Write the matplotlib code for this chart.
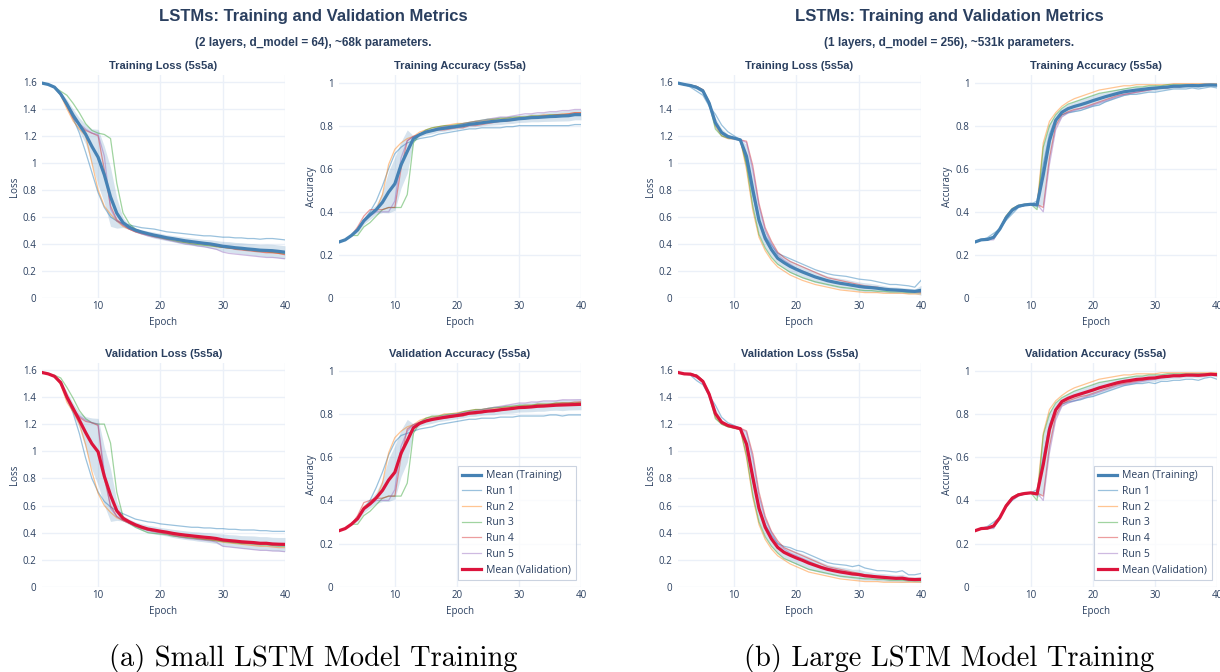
import numpy as np
import matplotlib
matplotlib.use('Agg')
import matplotlib.pyplot as plt
from matplotlib.lines import Line2D
from matplotlib.ticker import FuncFormatter, MultipleLocator

epochs = np.arange(1, 41)

# ---- small model: 2 layers, d_model = 64 (5 runs x 40 epochs) ----
small_train_loss = [
    [1.59, 1.58, 1.56, 1.50, 1.42, 1.33, 1.22, 1.08, 0.93, 0.78,
     0.67, 0.60, 0.57, 0.55, 0.54, 0.53, 0.52, 0.515, 0.51, 0.50,
     0.49, 0.485, 0.48, 0.475, 0.47, 0.465, 0.46, 0.46, 0.455, 0.45,
     0.45, 0.445, 0.445, 0.44, 0.44, 0.435, 0.44, 0.44, 0.435, 0.43],
    [1.59, 1.58, 1.56, 1.50, 1.40, 1.31, 1.25, 1.20, 1.00, 0.80,
     0.68, 0.62, 0.57, 0.53, 0.51, 0.49, 0.48, 0.47, 0.455, 0.445,
     0.435, 0.43, 0.42, 0.41, 0.405, 0.40, 0.395, 0.39, 0.38, 0.375,
     0.37, 0.365, 0.36, 0.355, 0.35, 0.345, 0.34, 0.335, 0.33, 0.325],
    [1.59, 1.58, 1.56, 1.53, 1.50, 1.44, 1.37, 1.29, 1.24, 1.22,
     1.21, 1.18, 0.85, 0.63, 0.55, 0.51, 0.49, 0.47, 0.455, 0.445,
     0.435, 0.425, 0.415, 0.41, 0.40, 0.395, 0.39, 0.385, 0.38, 0.375,
     0.37, 0.365, 0.36, 0.355, 0.35, 0.345, 0.345, 0.34, 0.335, 0.33],
    [1.59, 1.58, 1.56, 1.51, 1.42, 1.33, 1.28, 1.24, 1.22, 1.20,
     0.95, 0.68, 0.58, 0.54, 0.51, 0.49, 0.475, 0.465, 0.455, 0.45,
     0.44, 0.435, 0.43, 0.42, 0.415, 0.41, 0.40, 0.395, 0.385, 0.375,
     0.37, 0.36, 0.355, 0.35, 0.345, 0.34, 0.335, 0.335, 0.33, 0.32],
    [1.59, 1.58, 1.56, 1.51, 1.43, 1.35, 1.29, 1.25, 1.22, 1.21,
     1.05, 0.66, 0.57, 0.54, 0.51, 0.49, 0.475, 0.46, 0.45, 0.44,
     0.43, 0.42, 0.41, 0.40, 0.395, 0.385, 0.38, 0.37, 0.36, 0.34,
     0.33, 0.325, 0.32, 0.315, 0.31, 0.305, 0.30, 0.30, 0.295, 0.29],
]
small_train_acc = [
    [0.26, 0.27, 0.29, 0.32, 0.36, 0.40, 0.45, 0.52, 0.60, 0.67,
     0.70, 0.72, 0.73, 0.74, 0.745, 0.75, 0.76, 0.765, 0.77, 0.775,
     0.78, 0.785, 0.785, 0.79, 0.79, 0.79, 0.79, 0.795, 0.795, 0.80,
     0.80, 0.80, 0.80, 0.80, 0.80, 0.80, 0.80, 0.80, 0.805, 0.805],
    [0.26, 0.27, 0.29, 0.32, 0.36, 0.39, 0.41, 0.48, 0.62, 0.69,
     0.72, 0.74, 0.75, 0.77, 0.78, 0.79, 0.795, 0.80, 0.805, 0.81,
     0.81, 0.815, 0.82, 0.82, 0.825, 0.83, 0.83, 0.835, 0.835, 0.84,
     0.84, 0.845, 0.845, 0.85, 0.85, 0.85, 0.855, 0.855, 0.86, 0.86],
    [0.26, 0.27, 0.29, 0.29, 0.33, 0.35, 0.38, 0.41, 0.42, 0.42,
     0.42, 0.48, 0.72, 0.76, 0.78, 0.79, 0.795, 0.80, 0.80, 0.805,
     0.81, 0.815, 0.82, 0.825, 0.83, 0.83, 0.835, 0.835, 0.84, 0.84,
     0.84, 0.845, 0.845, 0.845, 0.85, 0.85, 0.85, 0.85, 0.855, 0.855],
    [0.26, 0.27, 0.29, 0.33, 0.38, 0.41, 0.41, 0.41, 0.42, 0.42,
     0.60, 0.73, 0.75, 0.76, 0.77, 0.775, 0.78, 0.78, 0.785, 0.79,
     0.79, 0.80, 0.80, 0.805, 0.81, 0.815, 0.82, 0.82, 0.825, 0.83,
     0.835, 0.84, 0.84, 0.845, 0.845, 0.85, 0.85, 0.855, 0.86, 0.86],
    [0.26, 0.27, 0.29, 0.32, 0.36, 0.38, 0.40, 0.40, 0.40, 0.45,
     0.65, 0.73, 0.75, 0.76, 0.775, 0.78, 0.79, 0.795, 0.80, 0.80,
     0.81, 0.815, 0.82, 0.825, 0.83, 0.835, 0.84, 0.84, 0.845, 0.85,
     0.855, 0.855, 0.86, 0.86, 0.865, 0.865, 0.87, 0.87, 0.875, 0.875],
]
small_val_loss = [
    [1.58, 1.57, 1.55, 1.50, 1.40, 1.28, 1.13, 0.95, 0.80, 0.70,
     0.63, 0.59, 0.56, 0.54, 0.52, 0.50, 0.49, 0.48, 0.475, 0.465,
     0.46, 0.455, 0.45, 0.445, 0.44, 0.44, 0.435, 0.435, 0.43, 0.43,
     0.425, 0.425, 0.42, 0.42, 0.42, 0.415, 0.415, 0.41, 0.41, 0.41],
    [1.58, 1.57, 1.55, 1.49, 1.36, 1.29, 1.20, 1.05, 0.85, 0.69,
     0.60, 0.55, 0.51, 0.49, 0.47, 0.45, 0.43, 0.42, 0.41, 0.40,
     0.39, 0.38, 0.37, 0.365, 0.36, 0.355, 0.35, 0.345, 0.34, 0.33,
     0.325, 0.32, 0.315, 0.31, 0.305, 0.30, 0.30, 0.295, 0.29, 0.29],
    [1.58, 1.57, 1.56, 1.54, 1.47, 1.39, 1.30, 1.24, 1.21, 1.20,
     1.20, 1.06, 0.70, 0.52, 0.47, 0.44, 0.42, 0.40, 0.395, 0.39,
     0.385, 0.375, 0.37, 0.365, 0.36, 0.355, 0.35, 0.345, 0.34, 0.335,
     0.33, 0.325, 0.32, 0.32, 0.315, 0.31, 0.31, 0.305, 0.30, 0.30],
    [1.58, 1.57, 1.55, 1.50, 1.38, 1.30, 1.25, 1.22, 1.21, 1.19,
     0.80, 0.60, 0.52, 0.49, 0.47, 0.45, 0.435, 0.42, 0.41, 0.40,
     0.395, 0.385, 0.38, 0.375, 0.37, 0.36, 0.355, 0.35, 0.345, 0.34,
     0.335, 0.33, 0.325, 0.32, 0.32, 0.315, 0.315, 0.31, 0.31, 0.31],
    [1.58, 1.57, 1.55, 1.50, 1.39, 1.31, 1.26, 1.23, 1.21, 1.20,
     0.85, 0.58, 0.52, 0.49, 0.47, 0.45, 0.43, 0.415, 0.405, 0.40,
     0.39, 0.38, 0.37, 0.36, 0.355, 0.35, 0.345, 0.34, 0.33, 0.30,
     0.295, 0.29, 0.285, 0.28, 0.275, 0.27, 0.27, 0.265, 0.265, 0.26],
]
small_val_acc = [
    [0.26, 0.27, 0.29, 0.32, 0.36, 0.40, 0.46, 0.53, 0.61, 0.67,
     0.70, 0.71, 0.72, 0.73, 0.735, 0.74, 0.75, 0.755, 0.76, 0.765,
     0.77, 0.775, 0.775, 0.78, 0.78, 0.78, 0.785, 0.785, 0.785, 0.79,
     0.79, 0.79, 0.79, 0.79, 0.795, 0.795, 0.79, 0.795, 0.795, 0.795],
    [0.26, 0.27, 0.29, 0.32, 0.37, 0.39, 0.41, 0.48, 0.62, 0.69,
     0.72, 0.74, 0.75, 0.77, 0.78, 0.785, 0.79, 0.80, 0.80, 0.805,
     0.81, 0.815, 0.82, 0.82, 0.825, 0.825, 0.83, 0.83, 0.835, 0.835,
     0.84, 0.84, 0.845, 0.845, 0.845, 0.85, 0.85, 0.85, 0.85, 0.855],
    [0.26, 0.27, 0.29, 0.29, 0.33, 0.35, 0.38, 0.41, 0.42, 0.42,
     0.42, 0.48, 0.71, 0.76, 0.78, 0.79, 0.79, 0.795, 0.80, 0.80,
     0.81, 0.815, 0.82, 0.82, 0.825, 0.83, 0.83, 0.835, 0.835, 0.84,
     0.84, 0.84, 0.845, 0.845, 0.845, 0.85, 0.85, 0.85, 0.85, 0.85],
    [0.26, 0.27, 0.29, 0.33, 0.39, 0.40, 0.41, 0.41, 0.42, 0.42,
     0.60, 0.73, 0.75, 0.76, 0.77, 0.775, 0.78, 0.78, 0.785, 0.79,
     0.79, 0.80, 0.80, 0.805, 0.81, 0.81, 0.815, 0.82, 0.825, 0.83,
     0.83, 0.835, 0.84, 0.84, 0.845, 0.845, 0.85, 0.85, 0.855, 0.855],
    [0.26, 0.27, 0.29, 0.32, 0.36, 0.38, 0.40, 0.40, 0.40, 0.45,
     0.65, 0.72, 0.75, 0.76, 0.77, 0.78, 0.785, 0.79, 0.795, 0.80,
     0.805, 0.81, 0.815, 0.82, 0.825, 0.83, 0.835, 0.84, 0.845, 0.85,
     0.85, 0.855, 0.855, 0.86, 0.86, 0.86, 0.865, 0.865, 0.865, 0.865],
]

# ---- large model: 1 layer, d_model = 256 ----
large_train_loss = [
    [1.59, 1.58, 1.56, 1.53, 1.50, 1.42, 1.36, 1.28, 1.23, 1.20,
     1.17, 1.00, 0.76, 0.57, 0.46, 0.39, 0.33, 0.31, 0.29, 0.27,
     0.25, 0.23, 0.21, 0.195, 0.18, 0.17, 0.165, 0.16, 0.15, 0.14,
     0.135, 0.13, 0.12, 0.11, 0.10, 0.10, 0.095, 0.09, 0.08, 0.13],
    [1.59, 1.58, 1.575, 1.565, 1.54, 1.45, 1.27, 1.20, 1.18, 1.175,
     1.17, 0.95, 0.65, 0.45, 0.35, 0.28, 0.23, 0.20, 0.17, 0.15,
     0.13, 0.115, 0.10, 0.09, 0.08, 0.07, 0.06, 0.055, 0.05, 0.045,
     0.04, 0.04, 0.04, 0.035, 0.035, 0.035, 0.035, 0.03, 0.03, 0.03],
    [1.59, 1.58, 1.575, 1.565, 1.54, 1.44, 1.25, 1.20, 1.185, 1.18,
     1.17, 0.98, 0.68, 0.47, 0.37, 0.30, 0.25, 0.22, 0.19, 0.17,
     0.15, 0.135, 0.12, 0.11, 0.10, 0.09, 0.08, 0.075, 0.07, 0.06,
     0.055, 0.055, 0.05, 0.05, 0.045, 0.045, 0.045, 0.04, 0.04, 0.04],
    [1.59, 1.58, 1.575, 1.565, 1.54, 1.45, 1.30, 1.22, 1.19, 1.18,
     1.17, 1.16, 0.98, 0.70, 0.52, 0.42, 0.34, 0.30, 0.27, 0.25,
     0.23, 0.21, 0.19, 0.17, 0.15, 0.14, 0.13, 0.12, 0.11, 0.10,
     0.09, 0.085, 0.08, 0.07, 0.065, 0.06, 0.055, 0.05, 0.05, 0.045],
    [1.59, 1.58, 1.575, 1.565, 1.54, 1.45, 1.30, 1.22, 1.19, 1.18,
     1.17, 1.15, 0.95, 0.68, 0.50, 0.40, 0.32, 0.28, 0.25, 0.22,
     0.20, 0.18, 0.16, 0.145, 0.13, 0.12, 0.11, 0.10, 0.09, 0.085,
     0.08, 0.075, 0.07, 0.065, 0.06, 0.055, 0.05, 0.05, 0.045, 0.04],
]
large_train_acc = [
    [0.26, 0.27, 0.28, 0.30, 0.32, 0.36, 0.39, 0.42, 0.43, 0.435,
     0.45, 0.62, 0.76, 0.83, 0.85, 0.86, 0.865, 0.87, 0.88, 0.89,
     0.895, 0.91, 0.92, 0.93, 0.94, 0.945, 0.945, 0.95, 0.955, 0.955,
     0.96, 0.965, 0.97, 0.97, 0.97, 0.975, 0.97, 0.975, 0.98, 0.975],
    [0.26, 0.27, 0.27, 0.28, 0.32, 0.38, 0.415, 0.43, 0.435, 0.435,
     0.43, 0.72, 0.82, 0.86, 0.89, 0.91, 0.925, 0.935, 0.945, 0.955,
     0.965, 0.97, 0.975, 0.98, 0.985, 0.985, 0.99, 0.99, 0.99, 0.99,
     0.99, 0.99, 0.995, 0.995, 0.995, 0.995, 0.995, 0.995, 0.995, 0.995],
    [0.26, 0.27, 0.27, 0.28, 0.32, 0.38, 0.415, 0.43, 0.435, 0.435,
     0.41, 0.70, 0.80, 0.85, 0.88, 0.90, 0.91, 0.92, 0.93, 0.94,
     0.95, 0.955, 0.96, 0.965, 0.97, 0.975, 0.98, 0.98, 0.985, 0.985,
     0.985, 0.99, 0.99, 0.99, 0.99, 0.99, 0.99, 0.99, 0.99, 0.99],
    [0.26, 0.27, 0.27, 0.28, 0.32, 0.37, 0.41, 0.425, 0.43, 0.435,
     0.435, 0.42, 0.65, 0.80, 0.85, 0.865, 0.875, 0.88, 0.89, 0.90,
     0.91, 0.92, 0.93, 0.94, 0.945, 0.95, 0.955, 0.96, 0.965, 0.97,
     0.975, 0.975, 0.98, 0.98, 0.985, 0.985, 0.985, 0.99, 0.99, 0.99],
    [0.26, 0.27, 0.27, 0.27, 0.32, 0.37, 0.41, 0.425, 0.43, 0.435,
     0.435, 0.40, 0.62, 0.78, 0.84, 0.86, 0.87, 0.88, 0.885, 0.895,
     0.905, 0.915, 0.925, 0.935, 0.945, 0.95, 0.955, 0.96, 0.965, 0.97,
     0.975, 0.975, 0.98, 0.98, 0.985, 0.985, 0.985, 0.99, 0.99, 0.99],
]
large_val_loss = [
    [1.58, 1.57, 1.56, 1.52, 1.49, 1.41, 1.34, 1.25, 1.21, 1.19,
     1.17, 1.05, 0.78, 0.58, 0.46, 0.38, 0.32, 0.30, 0.29, 0.27,
     0.26, 0.24, 0.22, 0.20, 0.18, 0.17, 0.165, 0.16, 0.15, 0.16,
     0.14, 0.13, 0.12, 0.12, 0.115, 0.11, 0.12, 0.09, 0.09, 0.10],
    [1.58, 1.57, 1.57, 1.56, 1.52, 1.42, 1.25, 1.20, 1.18, 1.17,
     1.16, 0.95, 0.66, 0.46, 0.35, 0.28, 0.23, 0.20, 0.17, 0.15,
     0.13, 0.11, 0.10, 0.09, 0.08, 0.07, 0.06, 0.055, 0.05, 0.045,
     0.04, 0.04, 0.04, 0.035, 0.035, 0.035, 0.035, 0.035, 0.035, 0.035],
    [1.58, 1.57, 1.57, 1.56, 1.52, 1.41, 1.24, 1.20, 1.18, 1.17,
     1.16, 0.97, 0.68, 0.48, 0.37, 0.30, 0.25, 0.21, 0.19, 0.17,
     0.15, 0.13, 0.12, 0.11, 0.10, 0.09, 0.08, 0.075, 0.07, 0.065,
     0.06, 0.06, 0.055, 0.055, 0.05, 0.05, 0.05, 0.045, 0.045, 0.045],
    [1.58, 1.57, 1.57, 1.56, 1.52, 1.43, 1.28, 1.21, 1.19, 1.18,
     1.17, 1.15, 0.98, 0.70, 0.52, 0.41, 0.34, 0.29, 0.27, 0.25,
     0.23, 0.21, 0.19, 0.17, 0.15, 0.14, 0.13, 0.12, 0.11, 0.10,
     0.09, 0.085, 0.08, 0.075, 0.07, 0.065, 0.06, 0.06, 0.055, 0.05],
    [1.58, 1.57, 1.57, 1.56, 1.52, 1.43, 1.28, 1.21, 1.19, 1.18,
     1.17, 1.14, 0.95, 0.67, 0.50, 0.40, 0.32, 0.28, 0.25, 0.23,
     0.21, 0.19, 0.17, 0.15, 0.14, 0.13, 0.12, 0.11, 0.10, 0.09,
     0.085, 0.08, 0.075, 0.07, 0.065, 0.06, 0.06, 0.055, 0.05, 0.05],
]
large_val_acc = [
    [0.26, 0.27, 0.28, 0.30, 0.32, 0.37, 0.40, 0.42, 0.43, 0.435,
     0.45, 0.60, 0.75, 0.82, 0.845, 0.855, 0.86, 0.865, 0.875, 0.88,
     0.89, 0.90, 0.91, 0.92, 0.93, 0.935, 0.94, 0.94, 0.945, 0.94,
     0.95, 0.95, 0.955, 0.955, 0.96, 0.96, 0.955, 0.965, 0.97, 0.96],
    [0.26, 0.27, 0.27, 0.28, 0.32, 0.38, 0.415, 0.43, 0.435, 0.435,
     0.43, 0.71, 0.82, 0.86, 0.885, 0.905, 0.92, 0.93, 0.94, 0.95,
     0.96, 0.965, 0.97, 0.975, 0.98, 0.98, 0.985, 0.985, 0.985, 0.985,
     0.99, 0.99, 0.99, 0.99, 0.99, 0.99, 0.99, 0.99, 0.99, 0.99],
    [0.26, 0.27, 0.27, 0.28, 0.32, 0.38, 0.415, 0.43, 0.435, 0.435,
     0.40, 0.70, 0.80, 0.85, 0.875, 0.89, 0.905, 0.915, 0.925, 0.935,
     0.945, 0.95, 0.955, 0.96, 0.965, 0.97, 0.975, 0.975, 0.98, 0.98,
     0.98, 0.985, 0.985, 0.985, 0.985, 0.985, 0.985, 0.985, 0.985, 0.985],
    [0.26, 0.27, 0.27, 0.28, 0.32, 0.37, 0.41, 0.425, 0.43, 0.435,
     0.435, 0.42, 0.65, 0.79, 0.845, 0.86, 0.87, 0.88, 0.885, 0.895,
     0.905, 0.915, 0.925, 0.935, 0.94, 0.945, 0.95, 0.955, 0.96, 0.965,
     0.97, 0.97, 0.975, 0.975, 0.98, 0.98, 0.98, 0.98, 0.985, 0.985],
    [0.26, 0.27, 0.27, 0.27, 0.32, 0.37, 0.41, 0.425, 0.43, 0.435,
     0.435, 0.40, 0.62, 0.77, 0.835, 0.85, 0.86, 0.87, 0.88, 0.89,
     0.90, 0.91, 0.92, 0.93, 0.935, 0.94, 0.945, 0.95, 0.955, 0.96,
     0.965, 0.97, 0.975, 0.975, 0.98, 0.98, 0.98, 0.98, 0.985, 0.985],
]

subtitles = ['(2 layers, d_model = 64), ~68k parameters.',
             '(1 layers, d_model = 256), ~531k parameters.']
captions = ['(a) Small LSTM Model Training', '(b) Large LSTM Model Training']
run_labels = ['Run 1', 'Run 2', 'Run 3', 'Run 4', 'Run 5']

# ---- style ----
TXT = '#2a3f5f'
GRID = '#EBF0F8'
MEAN_TRAIN = '#4682B4'
MEAN_VAL = '#DC143C'
RUN_COLORS = ['#1f77b4', '#ff7f0e', '#2ca02c', '#d62728', '#9467bd']

plt.rcParams['font.family'] = ['Open Sans', 'DejaVu Sans']

W, H = 1220, 672
fig = plt.figure(figsize=(W / 100, H / 100), dpi=100)


def px_axes(x0, y0, x1, y1):
    return fig.add_axes([x0 / W, 1 - y1 / H, (x1 - x0) / W, (y1 - y0) / H])


def draw_panel(ax, runs, mean_color, title, ylabel, ymax):
    runs = np.array(runs)
    mean = runs.mean(axis=0)
    std = runs.std(axis=0)
    ax.fill_between(epochs, mean - std, mean + std, color=MEAN_TRAIN,
                    alpha=0.22, lw=0, zorder=2)
    for i, r in enumerate(runs):
        ax.plot(epochs, r, color=RUN_COLORS[i], alpha=0.45, lw=0.9, zorder=3)
    ax.plot(epochs, mean, color=mean_color, lw=2.3, zorder=4)

    ax.set_xlim(1, 40)
    ax.set_ylim(0, ymax)
    ax.xaxis.set_major_locator(MultipleLocator(10))
    ax.yaxis.set_major_locator(MultipleLocator(0.2))
    ax.yaxis.set_major_formatter(FuncFormatter(lambda v, p: f'{v:g}'))
    ax.grid(color=GRID, lw=1.0)
    ax.set_axisbelow(True)
    for s in ax.spines.values():
        s.set_visible(False)
    ax.tick_params(length=0, labelsize=7, labelcolor=TXT)
    ax.tick_params(axis='x', pad=2)
    ax.tick_params(axis='y', pad=4)
    ax.set_title(title, fontsize=8, fontweight='bold', color=TXT,
                 family=['Liberation Sans', 'DejaVu Sans'], pad=4)
    ax.set_xlabel('Epoch', fontsize=7, color=TXT)
    ax.set_ylabel(ylabel, fontsize=7, color=TXT)
    ax.xaxis.set_label_coords(0.5, -0.085)
    ax.yaxis.set_label_coords(-0.09, 0.5)


models = [
    (small_train_loss, small_train_acc, small_val_loss, small_val_acc),
    (large_train_loss, large_train_acc, large_val_loss, large_val_acc),
]

for k, (tl, ta, vl, va) in enumerate(models):
    dx = 636 * k
    ax1 = px_axes(42 + dx, 75, 285 + dx, 298)
    ax2 = px_axes(339 + dx, 75, 581 + dx, 298)
    ax3 = px_axes(42 + dx, 363, 285 + dx, 587)
    ax4 = px_axes(339 + dx, 363, 581 + dx, 587)
    draw_panel(ax1, tl, MEAN_TRAIN, 'Training Loss (5s5a)', 'Loss', 1.65)
    draw_panel(ax2, ta, MEAN_TRAIN, 'Training Accuracy (5s5a)', 'Accuracy', 1.035)
    draw_panel(ax3, vl, MEAN_VAL, 'Validation Loss (5s5a)', 'Loss', 1.65)
    draw_panel(ax4, va, MEAN_VAL, 'Validation Accuracy (5s5a)', 'Accuracy', 1.035)

    handles = [Line2D([], [], color=MEAN_TRAIN, lw=2.3)]
    handles += [Line2D([], [], color=c, alpha=0.45, lw=0.9) for c in RUN_COLORS]
    handles += [Line2D([], [], color=MEAN_VAL, lw=2.3)]
    labels = ['Mean (Training)'] + run_labels + ['Mean (Validation)']
    leg = fig.legend(handles, labels, loc='lower right',
                     bbox_to_anchor=((576 + dx) / W, 1 - 580 / H),
                     fontsize=7.5, frameon=True, fancybox=False,
                     borderaxespad=0, handlelength=1.8, handletextpad=0.5,
                     labelspacing=0.45, borderpad=0.45)
    leg.get_frame().set_edgecolor('#BEC8D9')
    leg.get_frame().set_linewidth(0.8)
    for t in leg.get_texts():
        t.set_color(TXT)

    cx = (313 + dx) / W
    fig.text(cx, 1 - 17 / H, 'LSTMs: Training and Validation Metrics',
             ha='center', va='center', fontsize=12, fontweight='bold',
             color=TXT, family=['Liberation Sans', 'DejaVu Sans'])
    fig.text(cx, 1 - 43 / H, subtitles[k], ha='center', va='center',
             fontsize=8.5, fontweight='bold', color=TXT,
             family=['Liberation Sans', 'DejaVu Sans'])
    fig.text(cx, 1 - 666 / H, captions[k], ha='center', va='baseline',
             fontsize=20.5, color='black', family=['cmr10', 'DejaVu Serif'])

fig.savefig('out.png', dpi=100, facecolor='white')
